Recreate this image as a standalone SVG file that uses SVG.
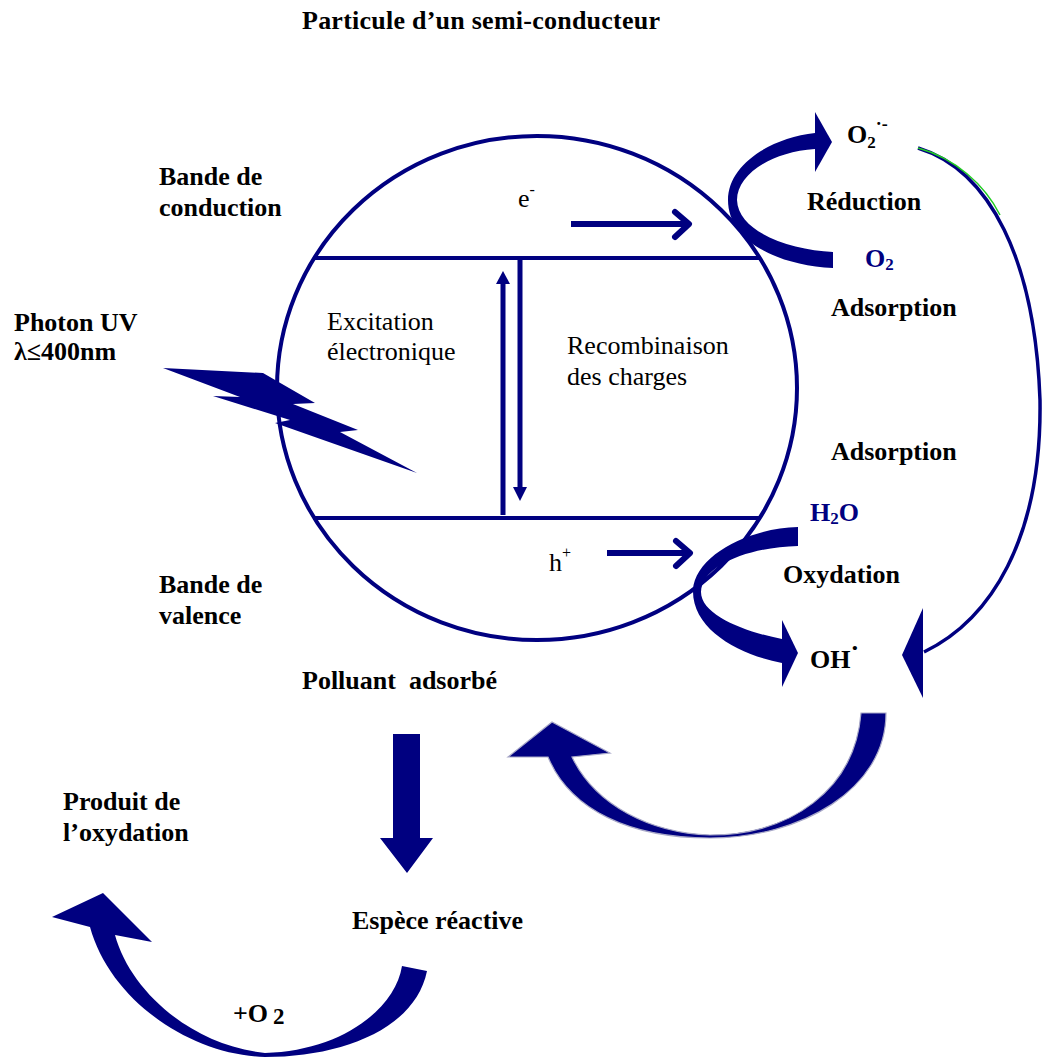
<svg xmlns="http://www.w3.org/2000/svg" width="1043" height="1059" viewBox="0 0 1043 1059">
<style>
  text { font-family: "Liberation Serif", "Times New Roman", serif; font-size: 26px; fill: #000; }
  .b { font-weight: bold; }
  .nv { fill: #000080; }
  .ln { fill: none; stroke: #000080; }
  .fill { fill: #000080; stroke: none; }
  .out { fill: #000080; stroke: #a8a8c8; stroke-width: 1.2; }
</style>
<rect width="1043" height="1059" fill="#fff"/>

<g id="title"><text class="b" x="302" y="29" textLength="358">Particule d’un semi-conducteur</text></g>

<g id="particle">
  <ellipse class="ln" cx="537" cy="388" rx="260" ry="252" stroke-width="4"/>
  <line class="ln" x1="313" y1="258" x2="761" y2="258" stroke-width="4"/>
  <line class="ln" x1="313" y1="518" x2="761" y2="518" stroke-width="4"/>
</g>

<g id="labels-left">
  <text class="b" x="159" y="185">Bande de</text>
  <text class="b" x="159" y="216">conduction</text>
  <text class="b" x="14" y="331">Photon UV</text>
  <text class="b" x="14" y="360">λ≤400nm</text>
  <text class="b" x="159" y="593">Bande de</text>
  <text class="b" x="159" y="624">valence</text>
</g>

<g id="inner-labels">
  <text x="327" y="330">Excitation</text>
  <text x="327" y="360">électronique</text>
  <text x="567" y="354">Recombinaison</text>
  <text x="567" y="385">des charges</text>
  <text x="518" y="207">e<tspan font-size="16" dy="-12">-</tspan></text>
  <text x="549" y="571">h<tspan font-size="16" dy="-13">+</tspan></text>
</g>

<g id="labels-right">
  <text class="b" x="847" y="143">O<tspan font-size="17" dy="5">2</tspan><tspan font-size="18" dy="-18">·-</tspan></text>
  <text class="b" x="807" y="210">Réduction</text>
  <text class="b nv" x="865" y="267">O<tspan font-size="17" dy="3">2</tspan></text>
  <text class="b" x="831" y="316">Adsorption</text>
  <text class="b" x="831" y="460">Adsorption</text>
  <text class="b nv" x="810" y="521">H<tspan font-size="17" dy="3">2</tspan><tspan dy="-3">O</tspan></text>
  <text class="b" x="783" y="583">Oxydation</text>
  <text class="b" x="810" y="668">OH<tspan dy="-12">·</tspan></text>
</g>

<g id="labels-bottom">
  <text class="b" x="302" y="689" style="white-space:pre">Polluant  adsorbé</text>
  <text class="b" x="63" y="810">Produit de</text>
  <text class="b" x="63" y="841">l’oxydation</text>
  <text class="b" x="352" y="929">Espèce réactive</text>
  <text class="b" x="233" y="1022">+O<tspan x="273" dy="2" font-size="23">2</tspan></text>
</g>

<g id="connectors">
  <!-- photon lightning -->
  <polygon class="fill" points="163,368 263,373 315,403 293,404 358,430 340,432 417,473 275,423 290,420 213,396 240,397"/>
  <!-- excitation up arrow -->
  <line class="ln" x1="503" y1="515" x2="503" y2="280" stroke-width="5"/>
  <polygon class="fill" points="496,284 503,271 510,284"/>
  <!-- recombination down arrow -->
  <line class="ln" x1="520" y1="256" x2="520" y2="490" stroke-width="5"/>
  <polygon class="fill" points="513,487 527,487 520,501"/>
  <!-- e- arrow -->
  <line class="ln" x1="571" y1="224" x2="688" y2="224" stroke-width="6"/>
  <polyline class="ln" points="675,212 689,224 675,237" stroke-width="6" stroke-linecap="round" stroke-linejoin="round"/>
  <!-- h+ arrow -->
  <line class="ln" x1="607" y1="553" x2="689" y2="553" stroke-width="6"/>
  <polyline class="ln" points="676,541 690,553 676,566" stroke-width="6" stroke-linecap="round" stroke-linejoin="round"/>
  <!-- reduction arrow -->
  <path class="fill" d="M815,133 C770,138 728,165 728,200 C728,240 775,265 833,268 L833,252 C790,250 738,232 737,200 C737,175 770,152 815,149 Z"/>
  <polygon class="fill" points="815,112 832,142 815,172"/>
  <!-- oxidation arrow -->
  <path class="fill" d="M798,527 C750,528 695,555 693,590 C692,630 740,655 782,663 L782,639 C745,632 701,615 701,592 C702,565 750,547 798,546 Z"/>
  <polygon class="fill" points="782,620 798,653 782,687"/>
  <!-- long thin arrow from O2.- to OH -->
  <path class="ln" d="M918,148 C990,170 1035,260 1040,400 C1042,540 990,620 924,652" stroke-width="3.5"/>
  <path fill="none" stroke="#22cc22" stroke-width="1.5" d="M918,148 C955,158 985,185 1000,215"/>
  <polygon class="fill" points="923,608 902,655 923,698"/>
  <!-- OH to polluant arrow -->
  <path class="out" d="M886,713 C886,790 800,838 710,838 C630,838 570,810 548,757 L508,757 L552,722 L610,753 L572,757 C595,805 650,833 710,835 C790,835 855,790 861,713 Z"/>
  <!-- polluant to espece reactive -->
  <polygon class="fill" points="393,734 420,734 420,838 433,838 407,873 380,838 393,838"/>
  <!-- espece reactive to produit -->
  <path class="fill" d="M427,971 C415,1030 340,1057 265,1057 C190,1055 110,1000 90,927 L52,917 L103,893 L152,942 L115,935 C130,990 190,1045 265,1053 C340,1051 395,1010 402,966 Z"/>
</g>
</svg>
